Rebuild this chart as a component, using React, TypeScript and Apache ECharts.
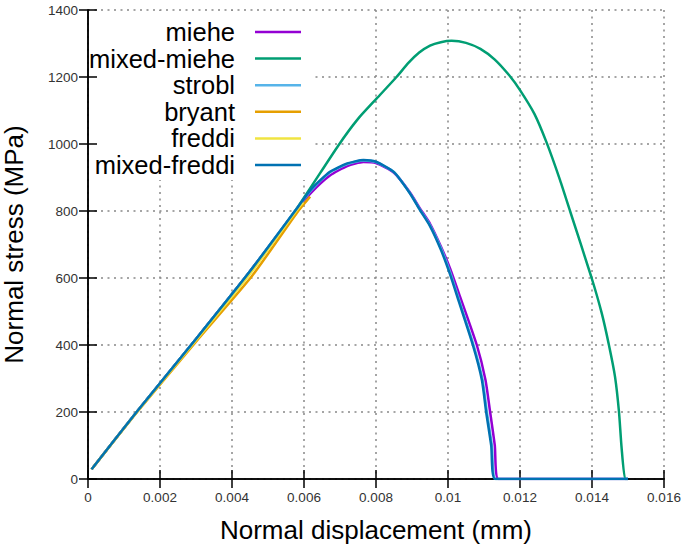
import React, { useEffect, useRef } from "react";
import * as echarts from "echarts";

const seriesNames = ["miehe", "mixed-miehe", "strobl", "bryant", "freddi", "mixed-freddi"];
const seriesColors = ["#9400d3", "#009e73", "#56b4e9", "#e69f00", "#f0e442", "#0072b2"];

const xTicks = [0, 0.002, 0.004, 0.006, 0.008, 0.01, 0.012, 0.014, 0.016];
const yTicks = [0, 200, 400, 600, 800, 1000, 1200, 1400];

const mieheData: [number, number][] = [
  [0.0001, 29], [0.00135, 200], [0.003, 418], [0.0045, 620], [0.00575, 798], [0.0062, 855],
  [0.00672, 906], [0.0072, 934], [0.00765, 946], [0.008, 943], [0.0085, 914], [0.00894, 856],
  [0.00922, 808], [0.0095, 762], [0.0098, 695], [0.01006, 628], [0.0103, 555], [0.0108, 400],
  [0.01104, 296], [0.01117, 200], [0.0113, 100], [0.0114, 0], [0.015, 0],
];
const mixedMieheData: [number, number][] = [
  [0.0001, 29], [0.00135, 200], [0.003, 418], [0.0045, 620], [0.00575, 800], [0.00695, 995],
  [0.0075, 1075], [0.00802, 1136], [0.00857, 1200], [0.0089, 1242], [0.0092, 1273], [0.0095, 1294],
  [0.0098, 1304], [0.0101, 1308], [0.0105, 1302], [0.0109, 1284], [0.0113, 1252], [0.0117, 1205],
  [0.012, 1161], [0.0124, 1090], [0.01274, 1004], [0.01311, 893], [0.01339, 800], [0.01399, 600],
  [0.01427, 495], [0.01447, 400], [0.01464, 305], [0.01475, 200], [0.01482, 96], [0.01492, 0],
  [0.015, 0],
];
const stroblData: [number, number][] = [
  [0.0001, 29], [0.00135, 200], [0.003, 418], [0.0045, 620], [0.00575, 800], [0.0062, 862],
  [0.00672, 915], [0.0072, 940], [0.00765, 951], [0.008, 946], [0.0085, 916], [0.00894, 854],
  [0.00922, 805], [0.0095, 758], [0.0098, 690], [0.01006, 617], [0.0103, 537], [0.01071, 400],
  [0.01096, 296], [0.01108, 200], [0.01122, 100], [0.01133, 0], [0.015, 0],
];
const bryantData: [number, number][] = [
  [0.0001, 29], [0.00135, 198], [0.003, 410], [0.00455, 605], [0.00584, 800], [0.00617, 843],
];
const freddiData: [number, number][] = [
  [0.0001, 29], [0.00135, 199], [0.003, 414], [0.0045, 612], [0.00578, 800], [0.00598, 826],
];
const mixedFreddiData: [number, number][] = [
  [0.0001, 29], [0.00135, 200], [0.003, 418], [0.0045, 620], [0.00575, 800], [0.0062, 865],
  [0.00672, 917], [0.0072, 942], [0.00765, 952], [0.008, 947], [0.0085, 916], [0.00894, 853],
  [0.00922, 803], [0.0095, 755], [0.0098, 685], [0.01006, 610], [0.0103, 530], [0.01069, 400],
  [0.01094, 296], [0.01106, 200], [0.0112, 100], [0.01131, 0], [0.015, 0],
];

const allData = [mieheData, mixedMieheData, stroblData, bryantData, freddiData, mixedFreddiData];

const FONT = "'Liberation Sans', Arial, sans-serif";

export default function App() {
  const ref = useRef<HTMLDivElement>(null);
  useEffect(() => {
    if (!ref.current) return;
    const chart = echarts.init(ref.current, undefined, { renderer: "svg" });
    const gridRect = { left: 88, right: 21, top: 10, bottom: 70, containLabel: false, outerBoundsMode: "none" };
    const xMin = xTicks[0];
    const xMax = xTicks[xTicks.length - 1];
    const xInt = xTicks[1] - xTicks[0];
    const yMin = yTicks[0];
    const yMax = yTicks[yTicks.length - 1];
    const yInt = yTicks[1] - yTicks[0];
    const tickStyle = { show: true, inside: true, length: 9, lineStyle: { color: "#000", width: 1.5 } };
    const lineStyle = { show: true, lineStyle: { color: "#000", width: 1.5 } };
    const gridLine = { show: true, lineStyle: { color: "#888", width: 1.5, type: [2, 4.5] } };

    const legendX = 235;
    const legendY0 = 32;
    const legendStep = 26.6;
    const legendGraphics: any[] = [
      { type: "rect", shape: { x: 89, y: 11, width: 226, height: 169 }, style: { fill: "#fff" }, z: 1, silent: true },
    ];
    seriesNames.forEach((name, i) => {
      const y = legendY0 + i * legendStep;
      legendGraphics.push({
        type: "text",
        x: legendX,
        y,
        z: 10,
        style: { text: name, fill: "#000", font: `25.5px ${FONT}`, textAlign: "right", textVerticalAlign: "middle" },
      });
      legendGraphics.push({
        type: "line",
        z: 10,
        shape: { x1: 255, y1: y, x2: 301, y2: y },
        style: { stroke: seriesColors[i], lineWidth: 2.5 },
      });
    });

    chart.setOption({
      animation: false,
      backgroundColor: "#fff",
      grid: [
        { ...gridRect, z: 0 },
        { ...gridRect, z: 2 },
      ],
      xAxis: [
        {
          gridIndex: 0, type: "value", min: xMin, max: xMax, interval: xInt, z: 0,
          axisLine: { show: false }, axisTick: { show: false }, axisLabel: { show: false },
          splitLine: gridLine,
        },
        {
          gridIndex: 1, type: "value", position: "bottom", min: xMin, max: xMax, interval: xInt, z: 2,
          axisLine: lineStyle, axisTick: tickStyle, splitLine: { show: false },
          axisLabel: {
            show: true, margin: 11, color: "#333", fontSize: 13.5, fontFamily: FONT,
            formatter: (v: number) => String(parseFloat(v.toFixed(4))),
          },
          name: "Normal displacement (mm)", nameLocation: "middle", nameGap: 38,
          nameTextStyle: { fontSize: 26, color: "#000", fontFamily: FONT },
        },
        {
          gridIndex: 1, type: "value", position: "top", min: xMin, max: xMax, interval: xInt, z: 2,
          axisLine: lineStyle, axisTick: tickStyle, splitLine: { show: false }, axisLabel: { show: false },
        },
      ],
      yAxis: [
        {
          gridIndex: 0, type: "value", min: yMin, max: yMax, interval: yInt, z: 0,
          axisLine: { show: false }, axisTick: { show: false }, axisLabel: { show: false },
          splitLine: gridLine,
        },
        {
          gridIndex: 1, type: "value", position: "left", min: yMin, max: yMax, interval: yInt, z: 2,
          axisLine: lineStyle, axisTick: tickStyle, splitLine: { show: false },
          axisLabel: {
            show: true, margin: 10, color: "#333", fontSize: 13.5, fontFamily: FONT,
            formatter: (v: number) => String(v),
          },
          name: "Normal stress (MPa)", nameLocation: "middle", nameGap: 61,
          nameTextStyle: { fontSize: 26, color: "#000", fontFamily: FONT },
        },
        {
          gridIndex: 1, type: "value", position: "right", min: yMin, max: yMax, interval: yInt, z: 2,
          axisLine: lineStyle, axisTick: tickStyle, splitLine: { show: false }, axisLabel: { show: false },
        },
      ],
      graphic: legendGraphics,
      series: seriesNames.map((name, i) => ({
        name,
        type: "line",
        xAxisIndex: 1,
        yAxisIndex: 1,
        data: allData[i],
        showSymbol: false,
        symbol: "none",
        smooth: 0.2,
        z: 3,
        lineStyle: { color: seriesColors[i], width: 2.5 },
        itemStyle: { color: seriesColors[i] },
      })),
    });
    return () => chart.dispose();
  }, []);
  return <div ref={ref} style={{ width: 685, height: 549, position: "absolute", left: 0, top: 0 }} />;
}
